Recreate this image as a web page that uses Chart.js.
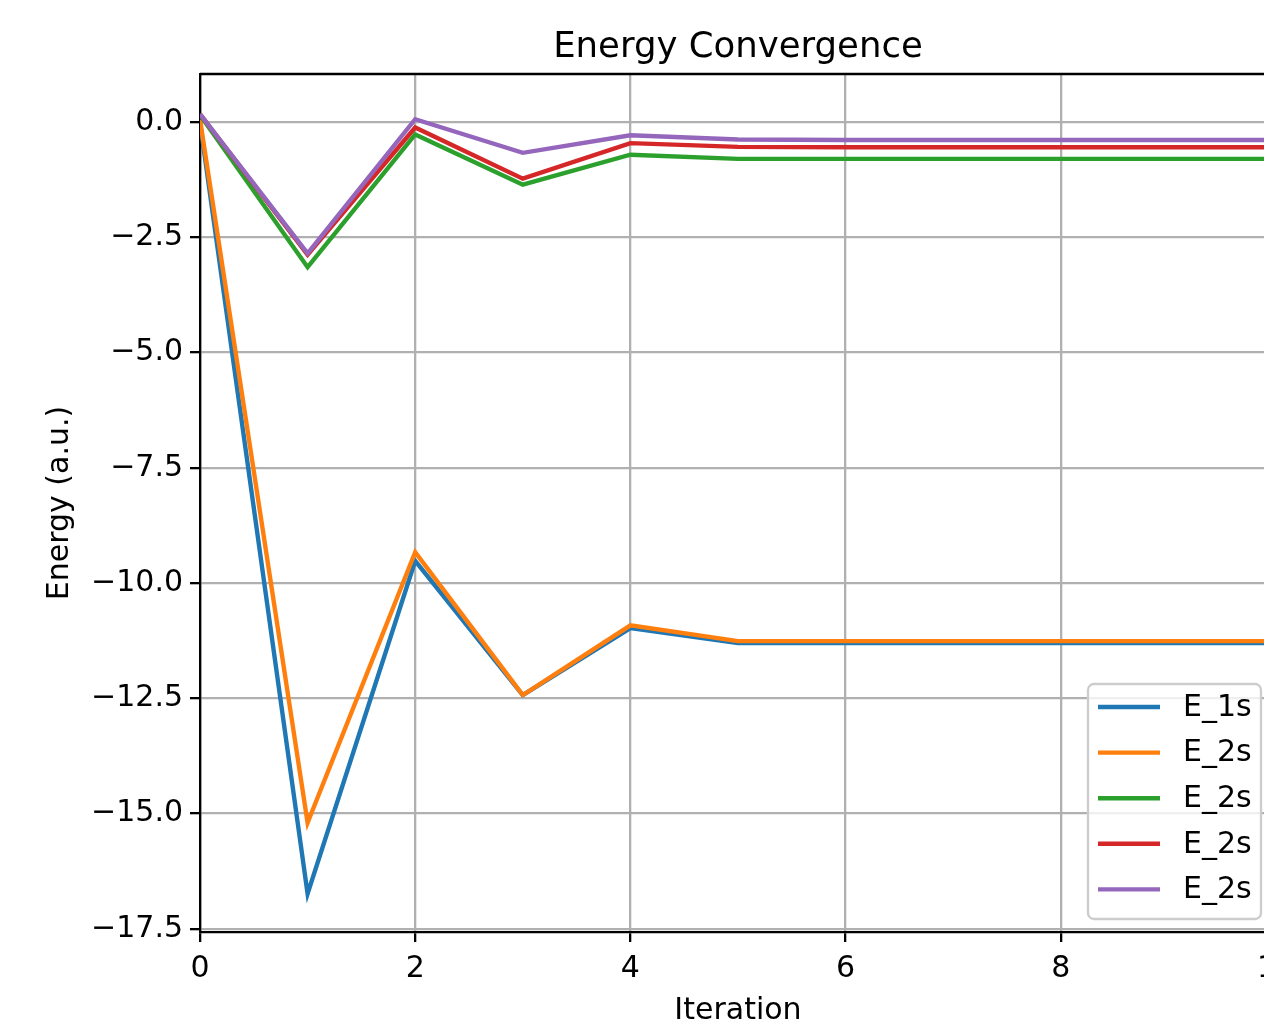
<!DOCTYPE html>
<html>
<head>
<meta charset="utf-8">
<script src="https://cdn.jsdelivr.net/npm/chart.js@4.4.1/dist/chart.umd.min.js"></script>
<style>
  html, body { margin: 0; padding: 0; background: #fff; overflow: hidden; }
  #wrap { width: 1300px; height: 1025px; }
</style>
</head>
<body>
<div id="wrap"><canvas id="c" width="1300" height="1025" style="width:1300px;height:1025px"></canvas></div>
<script>
// ---- data ----
const iterations = [0, 1, 2, 3, 4, 5, 6, 7, 8, 9, 10];
const seriesLabels = ["E_1s", "E_2s", "E_2s", "E_2s", "E_2s"];
const e1s   = [0.00, -16.74, -9.52, -12.43, -10.98, -11.30, -11.30, -11.30, -11.30, -11.30, -11.30];
const e2sA  = [0.05, -15.20, -9.33, -12.43, -10.92, -11.26, -11.26, -11.26, -11.26, -11.26, -11.26];
const e2sB  = [0.15, -3.15, -0.27, -1.36, -0.71, -0.80, -0.80, -0.80, -0.80, -0.80, -0.80];
const e2sC  = [0.17, -2.88, -0.12, -1.23, -0.46, -0.54, -0.55, -0.55, -0.55, -0.55, -0.55];
const e2sD  = [0.17, -2.85, 0.06, -0.67, -0.29, -0.38, -0.39, -0.39, -0.39, -0.39, -0.39];
const xTicks = [0, 2, 4, 6, 8, 10];
const yTicks = [-17.5, -15.0, -12.5, -10.0, -7.5, -5.0, -2.5, 0.0];
const colors = ["#1f77b4", "#ff7f0e", "#2ca02c", "#d62728", "#9467bd"];
const titleText = "Energy Convergence";
const xTitle = "Iteration";
const yTitle = "Energy (a.u.)";

const FONT = "'DejaVu Sans', sans-serif";
const allSeries = [e1s, e2sA, e2sB, e2sC, e2sD];

const datasets = allSeries.map((vals, i) => ({
  label: seriesLabels[i],
  data: vals.map((v, j) => ({ x: iterations[j], y: v })),
  borderColor: colors[i],
  backgroundColor: colors[i],
  borderWidth: 4.4,
  pointRadius: 0,
  tension: 0,
  fill: false,
  order: allSeries.length - 1 - i
}));

const frame = {
  id: 'frame',
  afterDatasetsDraw(chart) {
    const { ctx, chartArea: a } = chart;
    ctx.save();
    ctx.strokeStyle = '#000';
    ctx.lineWidth = 2.3;
    ctx.beginPath();
    ctx.moveTo(a.left, a.top);
    ctx.lineTo(a.right, a.top);
    ctx.lineTo(a.right, a.bottom);
    ctx.stroke();
    ctx.restore();
  },
  afterDraw(chart) {
    const { ctx, chartArea: a } = chart;
    ctx.save();
    // title
    ctx.fillStyle = '#000';
    ctx.font = "35.5px " + FONT;
    ctx.textAlign = 'center';
    ctx.textBaseline = 'alphabetic';
    ctx.fillText(titleText, (a.left + a.right) / 2, 57);

    // legend (lower right inside axes)
    const w = 173, h = 235;
    const lx = a.right - 15 - w;
    const ly = a.bottom - 13 - h;
    ctx.beginPath();
    ctx.roundRect(lx, ly, w, h, 6);
    ctx.fillStyle = 'rgba(255,255,255,0.8)';
    ctx.fill();
    ctx.strokeStyle = '#cccccc';
    ctx.lineWidth = 2.3;
    ctx.stroke();
    ctx.font = "30px " + FONT;
    ctx.textAlign = 'left';
    ctx.textBaseline = 'middle';
    chart.data.datasets.forEach((ds, i) => {
      const cy = ly + 23 + i * 45.6;
      ctx.strokeStyle = ds.borderColor;
      ctx.lineWidth = 4.4;
      ctx.beginPath();
      ctx.moveTo(lx + 10, cy);
      ctx.lineTo(lx + 72, cy);
      ctx.stroke();
      ctx.fillStyle = '#000';
      ctx.fillText(ds.label, lx + 95, cy + 1);
    });
    ctx.restore();
  }
};

const fmtY = v => {
  const s = Number(v).toFixed(1);
  return s.replace('-', '\u2212');
};

new Chart(document.getElementById('c'), {
  type: 'line',
  data: { datasets },
  plugins: [frame],
  options: {
    responsive: false,
    animation: false,
    devicePixelRatio: 1,
    layout: { padding: { top: 74, right: 24, left: 0, bottom: 0 } },
    plugins: {
      legend: { display: false },
      title: { display: false },
      tooltip: { enabled: false }
    },
    scales: {
      x: {
        type: 'linear',
        min: 0, max: 10,
        afterFit: s => { s.height = 93; s.paddingLeft = 0; s.paddingRight = 0; },
        afterBuildTicks: s => { s.ticks = xTicks.map(v => ({ value: v })); },
        grid: { color: '#b0b0b0', lineWidth: 2.3, tickColor: '#000', tickLength: 10, tickWidth: 2.3, drawTicks: true },
        border: { display: true, color: '#000', width: 2.3 },
        ticks: {
          color: '#000', font: { family: FONT, size: 30 }, padding: 9, maxRotation: 0,
          callback: v => String(v)
        },
        title: { display: true, text: xTitle, color: '#000', font: { family: FONT, size: 30 }, padding: { top: 0, bottom: -4 } }
      },
      y: {
        type: 'linear',
        min: -17.57, max: 1.04,
        afterFit: s => { s.width = 200; s.paddingTop = 0; s.paddingBottom = 0; },
        afterBuildTicks: s => { s.ticks = yTicks.map(v => ({ value: v })); },
        grid: { color: '#b0b0b0', lineWidth: 2.3, tickColor: '#000', tickLength: 10, tickWidth: 2.3, drawTicks: true },
        border: { display: true, color: '#000', width: 2.3 },
        ticks: {
          color: '#000', font: { family: FONT, size: 30 }, padding: 7,
          callback: v => fmtY(v)
        },
        title: { display: true, text: yTitle, color: '#000', font: { family: FONT, size: 30 }, padding: { top: 42, bottom: 0 } }
      }
    }
  }
});
</script>
</body>
</html>
